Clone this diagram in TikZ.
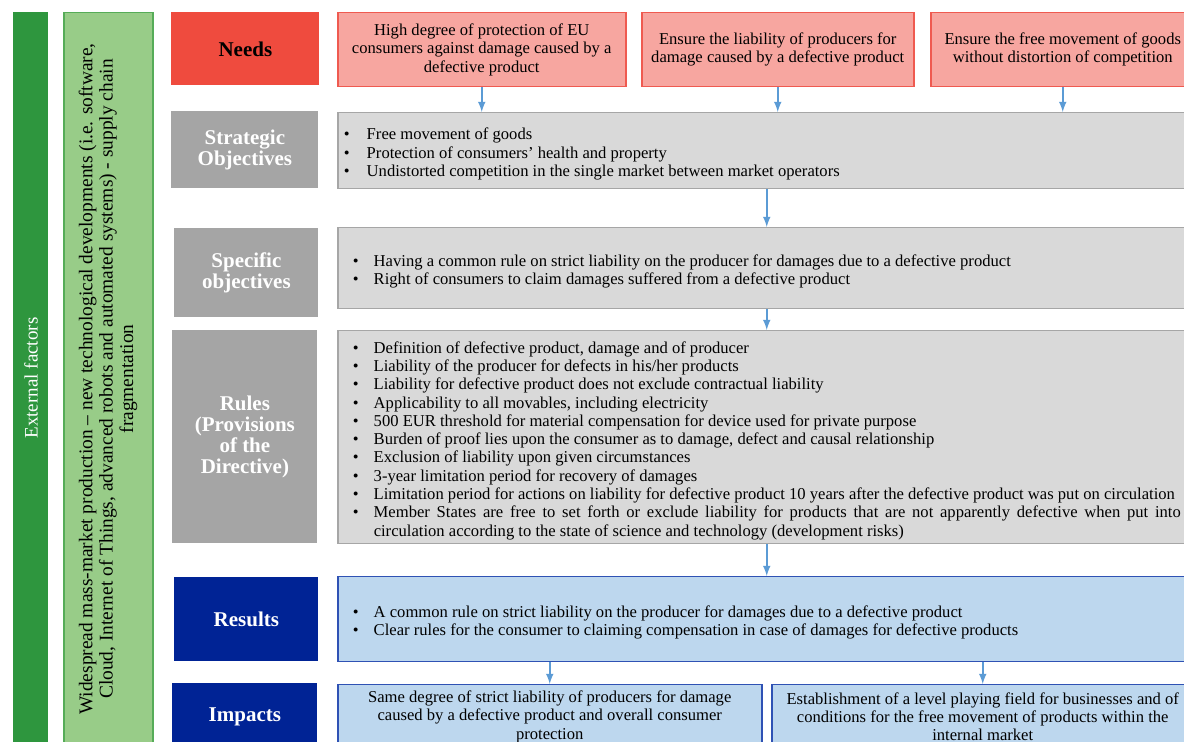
\documentclass[tikz,border=0pt]{standalone}
\usepackage{fontspec}
\setmainfont{Liberation Serif}
\usetikzlibrary{positioning}

\definecolor{extgreen}{RGB}{46,150,62}
\definecolor{devgreen}{RGB}{152,204,136}
\definecolor{devgreenline}{RGB}{86,172,88}
\definecolor{needred}{RGB}{239,75,62}
\definecolor{needpink}{RGB}{247,166,160}
\definecolor{needline}{RGB}{239,90,80}
\definecolor{labelgray}{RGB}{165,165,165}
\definecolor{boxgray}{RGB}{217,217,217}
\definecolor{boxgrayline}{RGB}{166,166,166}
\definecolor{navy}{RGB}{0,35,149}
\definecolor{resblue}{RGB}{189,215,238}
\definecolor{reslineblue}{RGB}{47,82,180}
\definecolor{flowblue}{RGB}{91,155,213}

\newcommand{\bpoint}[2][10.5pt]{\par\hangindent=#1\hangafter=1\noindent\makebox[#1][l]{\textbullet}#2\par}

\begin{document}
\begin{tikzpicture}[x=0.5pt, y=-0.5pt,
bodytext/.style={font=\fontsize{8.3}{9.15}\selectfont},
rowlabel/.style={rectangle, anchor=north west, inner sep=0pt, align=center, text=white, font=\fontsize{10.5}{10.5}\selectfont\bfseries},
needbox/.style={rectangle, anchor=north west, inner sep=0pt, align=center, fill=needpink, draw=needline, line width=0.75pt, bodytext},
listbox/.style={rectangle, anchor=north west, inner xsep=7.5pt, inner ysep=0pt, text width=414pt, minimum height=#1, align=justify, fill=boxgray, draw=boxgrayline, line width=0.75pt, bodytext},
resultbox/.style={rectangle, anchor=north west, inner sep=0pt, align=center, fill=resblue, draw=reslineblue, line width=0.75pt, bodytext},
flowline/.style={-latex, draw=flowblue, line width=0.75pt},
]
\clip (0,0) rectangle (1184,742);

% External factors bars
\node[rectangle, anchor=north west, fill=extgreen, minimum width=17.5pt, minimum height=370pt, inner sep=0pt] (external) at (13,12) {};
\node[rotate=90, text=white, font=\fontsize{9.5}{10}\selectfont] (externaltext) at (31,378) {External factors};
\node[rectangle, anchor=north west, fill=devgreen, draw=devgreenline, line width=0.75pt, minimum width=44.5pt, minimum height=370pt, inner sep=0pt] (developments) at (63,12) {};
\node[rotate=90, align=center, font=\fontsize{9.7}{10.2}\selectfont] (developmentstext) at (108,379) {Widespread mass-market production -- new technological developments (i.e. software,\\ Cloud, Internet of Things, advanced robots and automated systems) - supply chain\\ fragmentation};

% Needs
\node[rowlabel, fill=needred, text=black, minimum width=74pt, minimum height=36.5pt] (needslabel) at (171,12) {Needs};
\node[needbox, minimum width=144pt, minimum height=37pt] (need1) at (337,12) {High degree of protection of EU\\ consumers against damage caused by a\\ defective product};
\node[needbox, minimum width=136pt, minimum height=37pt] (need2) at (641,12) {Ensure the liability of producers for\\ damage caused by a defective product};
\node[needbox, minimum width=132pt, minimum height=37pt] (need3) at (930,12) {Ensure the free movement of goods\\ without distortion of competition};

% Strategic objectives
\node[rowlabel, fill=labelgray, minimum width=73.5pt, minimum height=38.5pt] (stratlabel) at (171,111) {Strategic\\ Objectives};
\node[listbox=38pt, inner xsep=3pt, text width=423pt] (strat) at (337,112) {%
\bpoint[11.5pt]{Free movement of goods}
\bpoint[11.5pt]{Protection of consumers’ health and property}
\bpoint[11.5pt]{Undistorted competition in the single market between market operators}};

% Specific objectives
\node[rowlabel, fill=labelgray, minimum width=72pt, minimum height=44.5pt] (speclabel) at (174,228) {Specific\\ objectives};
\node[listbox=40.5pt] (spec) at (337,227) {%
\bpoint{Having a common rule on strict liability on the producer for damages due to a defective product}
\bpoint{Right of consumers to claim damages suffered from a defective product}};

% Rules
\node[rowlabel, fill=labelgray, minimum width=72.5pt, minimum height=106.5pt] (ruleslabel) at (172,330) {Rules\\ (Provisions\\ of the\\ Directive)};
\node[listbox=106.5pt] (rules) at (337,330) {%
\bpoint{Definition of defective product, damage and of producer}
\bpoint{Liability of the producer for defects in his/her products}
\bpoint{Liability for defective product does not exclude contractual liability}
\bpoint{Applicability to all movables, including electricity}
\bpoint{500 EUR threshold for material compensation for device used for private purpose}
\bpoint{Burden of proof lies upon the consumer as to damage, defect and causal relationship}
\bpoint{Exclusion of liability upon given circumstances}
\bpoint{3-year limitation period for recovery of damages}
\bpoint{Limitation period for actions on liability for defective product 10 years after the defective product was put on circulation}
\bpoint{Member States are free to set forth or exclude liability for products that are not apparently defective when put into\linebreak circulation according to the state of science and technology (development risks)}};

% Results
\node[rowlabel, fill=navy, minimum width=72pt, minimum height=42pt] (reslabel) at (174,577) {Results};
\node[listbox=42.5pt, fill=resblue, draw=reslineblue] (results) at (337,576) {%
\bpoint{A common rule on strict liability on the producer for damages due to a defective product}
\bpoint{Clear rules for the consumer to claiming compensation in case of damages for defective products}};

% Impacts
\node[rowlabel, fill=navy, minimum width=72.5pt, minimum height=33pt] (implabel) at (172,683) {Impacts};
\node[resultbox, minimum width=212pt, minimum height=32pt] (impact1) at (337,684) {Same degree of strict liability of producers for damage\\ caused by a defective product and overall consumer\\ protection};
\node[resultbox, minimum width=211pt, minimum height=32pt] (impact2) at (771,684) {Establishment of a level playing field for businesses and of\\ conditions for the free movement of products within the\\ internal market};

% Flow arrows
\draw[flowline] (need1.south) -- (need1.south |- strat.north);
\draw[flowline] (need2.south) -- (need2.south |- strat.north);
\draw[flowline] (need3.south) -- (need3.south |- strat.north);
\draw[flowline] (strat.south) -- (spec.north);
\draw[flowline] (spec.south) -- (rules.north);
\draw[flowline] (rules.south) -- (results.north);
\draw[flowline] (impact1.north |- results.south) -- (impact1.north);
\draw[flowline] (impact2.north |- results.south) -- (impact2.north);
\end{tikzpicture}
\end{document}
